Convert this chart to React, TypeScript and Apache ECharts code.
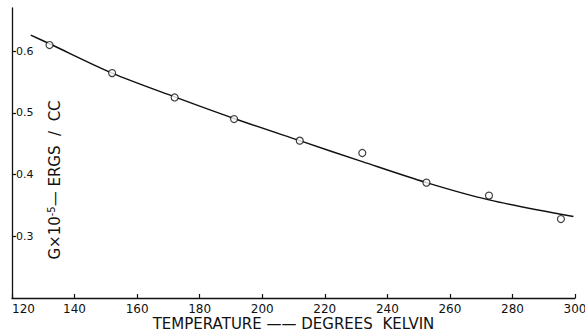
import React, { useEffect, useRef } from "react";
import * as echarts from "echarts";

const temperatures = [132, 152, 172, 191, 212, 232, 252.5, 272.5, 295.5];
const energies = [0.61, 0.5645, 0.525, 0.49, 0.455, 0.435, 0.387, 0.366, 0.328];
const curveT = [126, 132, 152, 172, 191, 212, 232, 252.5, 272.5, 299.5];
const curveG = [0.626, 0.612, 0.5645, 0.526, 0.491, 0.455, 0.421, 0.387, 0.359, 0.332];
const yTicks = [0.3, 0.4, 0.5, 0.6];
const xTitle = "TEMPERATURE —— DEGREES  KELVIN";

export default function App() {
  const ref = useRef<HTMLDivElement>(null);
  useEffect(() => {
    if (!ref.current) return;
    const chart = echarts.init(ref.current, null, { renderer: "svg" });
    const font = "DejaVu Sans";
    chart.setOption({
      animation: false,
      backgroundColor: "#fff",
      grid: { left: 12, right: 10, top: 8, bottom: 36, containLabel: false, outerBoundsMode: "none" },
      xAxis: {
        type: "value",
        min: 120,
        max: 300,
        interval: 20,
        name: xTitle,
        nameLocation: "middle",
        nameGap: 18,
        nameMoveOverlap: false,
        nameTextStyle: { fontFamily: font, fontSize: 15, color: "#111" },
        axisLine: { lineStyle: { color: "#111", width: 1.3 } },
        axisTick: { inside: true, length: 4, lineStyle: { color: "#111", width: 1.2 } },
        axisLabel: {
          fontFamily: font,
          fontSize: 12,
          color: "#111",
          margin: 5,
          alignMinLabel: "left",
        },
        splitLine: { show: false },
      },
      yAxis: {
        type: "value",
        min: 0.2,
        max: 0.67,
        interval: 0.1,
        name: "G×10{sup|-5}— ERGS  /  CC",
        nameLocation: "middle",
        nameRotate: 90,
        nameGap: -52,
        nameMoveOverlap: false,
        nameTextStyle: {
          fontFamily: font,
          fontSize: 15,
          color: "#111",
          padding: [0, 54, 0, 0],
          rich: { sup: { fontFamily: font, fontSize: 10, color: "#111", verticalAlign: "top", padding: [0, 0, 8, 0] } },
        },
        axisLine: { lineStyle: { color: "#111", width: 1.3 } },
        axisTick: { inside: true, length: 4, customValues: yTicks, lineStyle: { color: "#111", width: 1.2 } },
        axisLabel: {
          inside: true,
          margin: 4,
          fontFamily: font,
          fontSize: 11,
          color: "#111",
          customValues: yTicks,
          formatter: (v: number) => v.toFixed(1),
        },
        splitLine: { show: false },
      },
      series: [
        {
          type: "line",
          data: curveT.map((t, i) => [t, curveG[i]]),
          smooth: 0.3,
          showSymbol: false,
          symbol: "none",
          lineStyle: { color: "#111", width: 1.5 },
          z: 2,
        },
        {
          type: "scatter",
          data: temperatures.map((t, i) => [t, energies[i]]),
          symbol: "circle",
          symbolSize: 7,
          itemStyle: { color: "#fff", borderColor: "#111", borderWidth: 1.2 },
          z: 3,
        },
      ],
    });
    return () => chart.dispose();
  }, []);
  return (
    <div
      ref={ref}
      style={{ position: "fixed", left: 0, top: 0, width: 585, height: 334, background: "#fff" }}
    />
  );
}
